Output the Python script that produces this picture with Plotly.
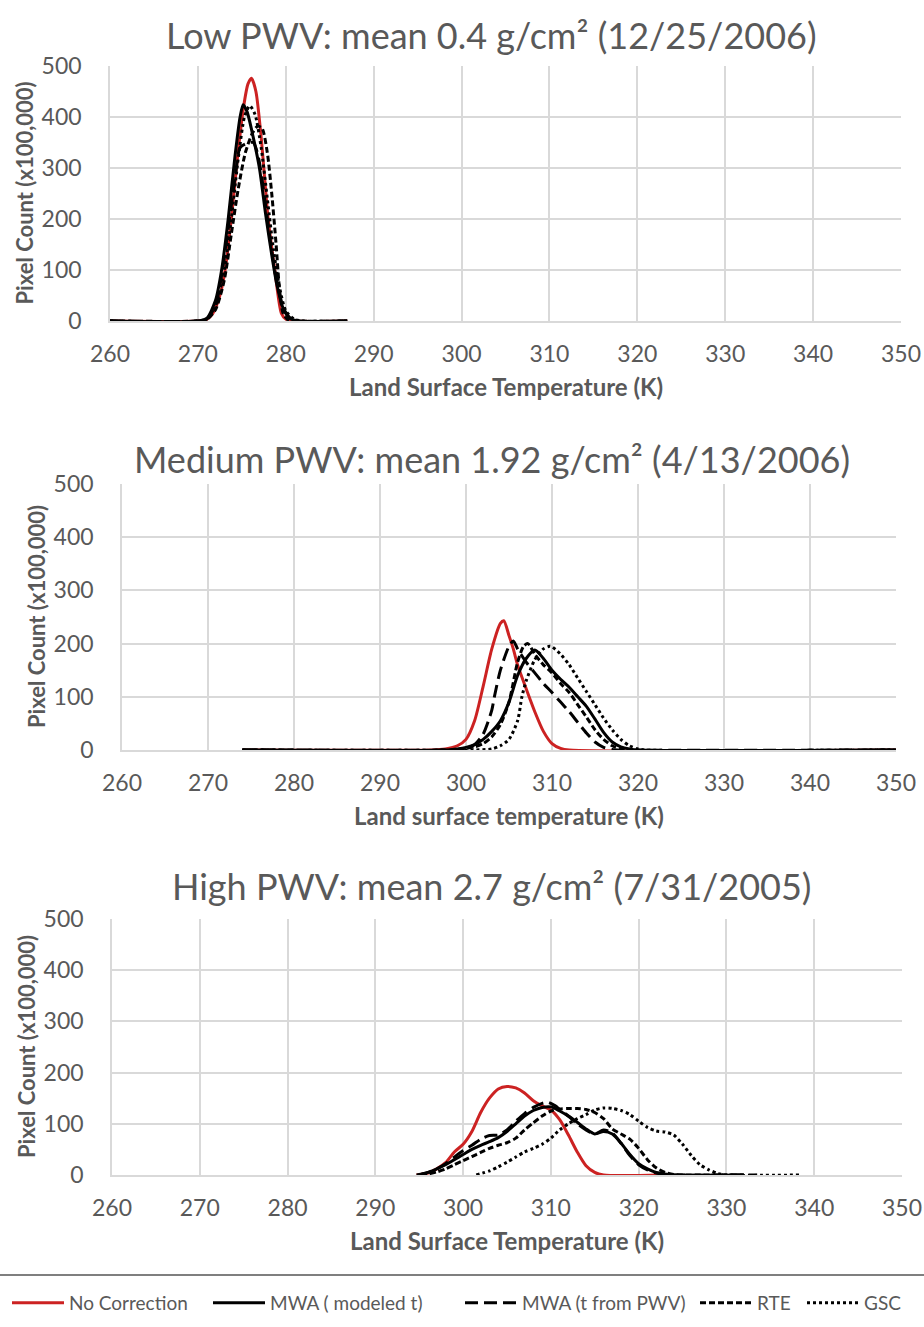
import plotly.graph_objects as go

# ---------------- data ----------------
SERIES = ["No Correction", "MWA ( modeled t)", "MWA (t from PWV)", "RTE", "GSC"]
PANEL_TITLES = ["Low PWV: mean 0.4 g/cm² (12/25/2006)",
                "Medium PWV: mean 1.92 g/cm² (4/13/2006)",
                "High PWV: mean 2.7 g/cm² (7/31/2005)"]
X_TITLES = ["Land Surface Temperature (K)", "Land surface temperature (K)",
            "Land Surface Temperature (K)"]
Y_TITLE = "Pixel Count (x100,000)"
X_TICKS = [260, 270, 280, 290, 300, 310, 320, 330, 340, 350]
Y_TICKS = [0, 100, 200, 300, 400, 500]

# Low PWV
LOW_NC_T = [260, 270, 271, 271.7, 272.5, 273.1, 273.8, 274.5, 275.2, 275.7, 276.1, 276.6, 277.2, 278, 278.75, 279.5, 280, 281, 287]
LOW_NC_V = [0, 0, 3, 15, 50, 100, 200, 320, 420, 465, 476, 450, 360, 200, 100, 15, 4, 0, 0]
LOW_MWA_T = [260, 270, 271, 272, 272.7, 273.45, 274.2, 274.8, 275.15, 275.6, 276.3, 277, 277.7, 278.4, 279, 279.7, 280.5, 281.5, 287]
LOW_MWA_V = [0, 0, 5, 40, 100, 200, 320, 400, 424, 410, 360, 300, 210, 130, 70, 25, 5, 0, 0]
LOW_MWAP_T = [260, 270, 271, 272, 272.8, 273.6, 274.3, 274.8, 275.5, 276.3, 276.9, 277.6, 278.3, 279, 279.8, 280.6, 281.5, 287]
LOW_MWAP_V = [0, 0, 4, 30, 100, 200, 290, 340, 348, 350, 320, 240, 150, 75, 22, 4, 0, 0]
LOW_RTE_T = [260, 270, 271, 272, 273, 273.8, 274.6, 275.4, 276.2, 276.8, 277.3, 277.9, 278.4, 278.9, 279.3, 279.7, 280.2, 281, 287]
LOW_RTE_V = [0, 0, 3, 22, 80, 170, 260, 330, 368, 382, 378, 330, 250, 150, 60, 15, 3, 0, 0]
LOW_GSC_T = [260, 270, 271, 272, 273, 273.8, 274.6, 275.3, 275.9, 276.5, 277.2, 277.9, 278.6, 279.3, 280, 281, 282, 287]
LOW_GSC_V = [0, 0, 4, 30, 100, 200, 320, 400, 422, 405, 340, 240, 140, 65, 20, 3, 0, 0]

# Medium PWV
MED_NC_T = [274, 296, 297.6, 299, 300, 301, 302, 303, 304, 304.4, 305, 305.5, 306, 307, 308, 309, 310, 311, 312, 350]
MED_NC_V = [0, 0, 2, 8, 20, 55, 120, 190, 238, 243, 215, 190, 160, 115, 72, 35, 12, 3, 0, 0]
MED_MWA_T = [274, 298, 299, 300, 301, 302, 303, 304, 305, 306, 307, 308, 309, 310, 311, 312, 313, 314, 315, 316, 317, 318, 319, 320, 350]
MED_MWA_V = [0, 0, 2, 5, 10, 20, 35, 55, 90, 140, 172, 188, 172, 150, 133, 118, 100, 82, 58, 33, 15, 6, 2, 0, 0]
MED_MWAP_T = [274, 298, 300, 301, 302, 303, 303.3, 304, 305, 305.5, 306, 307, 308, 309, 310, 311, 312, 313, 314, 315, 316, 317, 318, 350]
MED_MWAP_V = [0, 0, 3, 10, 30, 75, 100, 150, 195, 205, 190, 165, 145, 125, 108, 90, 72, 52, 32, 15, 5, 1, 0, 0]
MED_RTE_T = [274, 298, 299, 300, 301, 302, 303, 304, 305, 306, 306.7, 307.2, 308, 309, 310, 311, 312, 313, 314, 315, 316, 317, 318, 319, 350]
MED_RTE_V = [0, 0, 1, 3, 6, 12, 25, 48, 90, 165, 195, 200, 180, 160, 145, 125, 108, 85, 62, 38, 20, 8, 2, 0, 0]
MED_GSC_T = [274, 301, 303, 304, 305, 306, 306.5, 307, 308, 309, 309.7, 310, 311, 312, 313, 314, 315, 316, 317, 318, 319, 320, 321, 350]
MED_GSC_V = [0, 0, 2, 8, 20, 55, 100, 130, 170, 190, 195, 194, 180, 160, 135, 110, 85, 60, 38, 20, 8, 2, 0, 0]

# High PWV
HIGH_NC_T = [294.7, 296, 297, 298, 299, 300, 301, 302, 303, 304, 305, 306, 307, 308, 309, 310, 311, 312, 313, 314, 315, 316, 322.7]
HIGH_NC_V = [0, 4, 12, 24, 45, 60, 85, 122, 150, 168, 173, 170, 160, 145, 135, 127, 108, 78, 45, 18, 5, 0, 0]
HIGH_MWA_T = [294.7, 296, 297, 298, 299, 300, 301, 302, 303, 304, 305, 306, 307, 308, 309, 310, 311, 312, 313, 314, 315, 316, 317, 318, 319, 320, 321, 322, 323, 324, 332]
HIGH_MWA_V = [0, 5, 12, 20, 30, 40, 50, 58, 65, 73, 85, 100, 115, 126, 132, 133, 125, 115, 103, 90, 80, 85, 80, 62, 40, 22, 12, 5, 2, 0, 0]
HIGH_MWAP_T = [295, 296, 297, 298, 299, 300, 301, 302, 303, 304, 305, 306, 307, 308, 309, 309.7, 310.5, 311, 312, 313, 314, 315, 316, 317, 318, 319, 320, 321, 322, 323, 324, 333.5]
HIGH_MWAP_V = [0, 5, 12, 22, 35, 48, 58, 70, 77, 78, 88, 105, 120, 132, 140, 142, 135, 128, 115, 100, 88, 80, 88, 82, 62, 38, 20, 10, 4, 1, 0, 0]
HIGH_RTE_T = [295.2, 296, 297, 298, 299, 300, 301, 302, 303, 304, 305, 306, 307, 308, 309, 310, 311, 312, 313, 314, 315, 316, 317, 318, 319, 320, 321, 322, 323, 324, 325, 332]
HIGH_RTE_V = [0, 2, 6, 12, 20, 28, 36, 44, 52, 58, 63, 72, 88, 102, 115, 125, 129, 130, 130, 128, 122, 110, 90, 80, 70, 52, 30, 14, 5, 1, 0, 0]
HIGH_GSC_T = [301.5, 303, 304, 305, 306, 307, 308, 309, 310, 311, 312, 313, 314, 315, 316, 317, 318, 319, 320, 321, 322, 323, 324, 325, 326, 327, 328, 329, 330, 338.5]
HIGH_GSC_V = [0, 8, 16, 25, 35, 45, 52, 60, 72, 88, 100, 110, 118, 127, 131, 130, 126, 118, 105, 93, 86, 84, 78, 60, 38, 20, 10, 3, 0, 0]

PANELS = [
    [(LOW_NC_T, LOW_NC_V), (LOW_MWA_T, LOW_MWA_V), (LOW_MWAP_T, LOW_MWAP_V), (LOW_RTE_T, LOW_RTE_V), (LOW_GSC_T, LOW_GSC_V)],
    [(MED_NC_T, MED_NC_V), (MED_MWA_T, MED_MWA_V), (MED_MWAP_T, MED_MWAP_V), (MED_RTE_T, MED_RTE_V), (MED_GSC_T, MED_GSC_V)],
    [(HIGH_NC_T, HIGH_NC_V), (HIGH_MWA_T, HIGH_MWA_V), (HIGH_MWAP_T, HIGH_MWAP_V), (HIGH_RTE_T, HIGH_RTE_V), (HIGH_GSC_T, HIGH_GSC_V)],
]

# ---------------- styling / layout ----------------
W, H = 924, 1327
FONT = "Lato"
TXT = "#595959"
GRID = "#d9d9d9"
STYLES = [("#cc2222", "solid"), ("#000000", "solid"), ("#000000", "13px,6px"),
          ("#000000", "6px,3px"), ("#000000", "3px,3px")]
LEGEND_W = [134, 185, 168, 40, 50]

# plot boxes in pixels: (left, right, top, bottom)
BOXES = [(110, 901, 66, 321), (122, 896, 484, 750), (112, 902, 919, 1175)]
TITLE_Y = [35, 459, 886]
TITLE_X = 492


def px(x):
    return x / W


def py(y):
    return 1 - y / H


fig = go.Figure()
for p, panel in enumerate(PANELS):
    ax = "" if p == 0 else str(p + 1)
    for s, (t, v) in enumerate(panel):
        color, dash = STYLES[s]
        fig.add_trace(go.Scatter(
            x=t, y=v, mode="lines", name=SERIES[s], legendgroup=SERIES[s],
            showlegend=(p == 0), legendwidth=LEGEND_W[s], xaxis="x" + ax, yaxis="y" + ax,
            line=dict(color=color, dash=dash, width=3, shape="spline", smoothing=0.7),
        ))

layout = dict(
    width=W, height=H, margin=dict(l=0, r=0, t=0, b=0, autoexpand=False),
    paper_bgcolor="white", plot_bgcolor="white",
    font=dict(family=FONT, color=TXT),
    showlegend=True,
    legend=dict(orientation="h", x=px(7), xanchor="left", y=py(1303), yanchor="middle",
                font=dict(size=19, color=TXT, family=FONT), bgcolor="rgba(0,0,0,0)",
                itemwidth=52, tracegroupgap=0),
)
annotations = []
shapes = []
for p, (l, r, t, b) in enumerate(BOXES):
    ax = "" if p == 0 else str(p + 1)
    layout["xaxis" + ax] = dict(
        domain=[px(l), px(r)], range=[260, 350], tickvals=X_TICKS, anchor="y" + ax,
        showgrid=True, gridcolor=GRID, gridwidth=1.5, zeroline=False, automargin=False,
        showline=True, linecolor=GRID, linewidth=1.5, ticks="", ticklabeloverflow="allow",
        ticklabelstandoff=12, tickfont=dict(size=23, color=TXT, family=FONT),
    )
    layout["yaxis" + ax] = dict(
        domain=[py(b), py(t)], range=[0, 500], tickvals=Y_TICKS, anchor="x" + ax,
        showgrid=True, gridcolor=GRID, gridwidth=1.5, zeroline=False, automargin=False,
        showline=True, linecolor=GRID, linewidth=1.5, ticks="", ticklabeloverflow="allow",
        ticklabelstandoff=22, tickfont=dict(size=23, color=TXT, family=FONT),
    )
    annotations.append(dict(text=PANEL_TITLES[p], x=px(TITLE_X), y=py(TITLE_Y[p]),
                            xref="paper", yref="paper", xanchor="center", yanchor="middle",
                            showarrow=False, font=dict(size=36, color=TXT, family=FONT)))
    annotations.append(dict(text="<b>" + X_TITLES[p] + "</b>", x=px((l + r) / 2), y=py(b + 65),
                            xref="paper", yref="paper", xanchor="center", yanchor="middle",
                            showarrow=False, font=dict(size=24, color=TXT, family=FONT)))
    annotations.append(dict(text="<b>" + Y_TITLE + "</b>", x=px(l - 86), y=py((t + b) / 2),
                            xref="paper", yref="paper", xanchor="center", yanchor="middle",
                            textangle=-90, showarrow=False,
                            font=dict(size=22, color=TXT, family=FONT)))

shapes.append(dict(type="line", xref="paper", yref="paper", x0=0, x1=1, y0=py(1275), y1=py(1275),
                   line=dict(color="#7f7f7f", width=2)))
layout["annotations"] = annotations
layout["shapes"] = shapes
fig.update_layout(**layout)
fig.write_html("out.html", config={"displayModeBar": False},
               post_script="document.body.style.margin='0';document.body.style.overflow='hidden';")
